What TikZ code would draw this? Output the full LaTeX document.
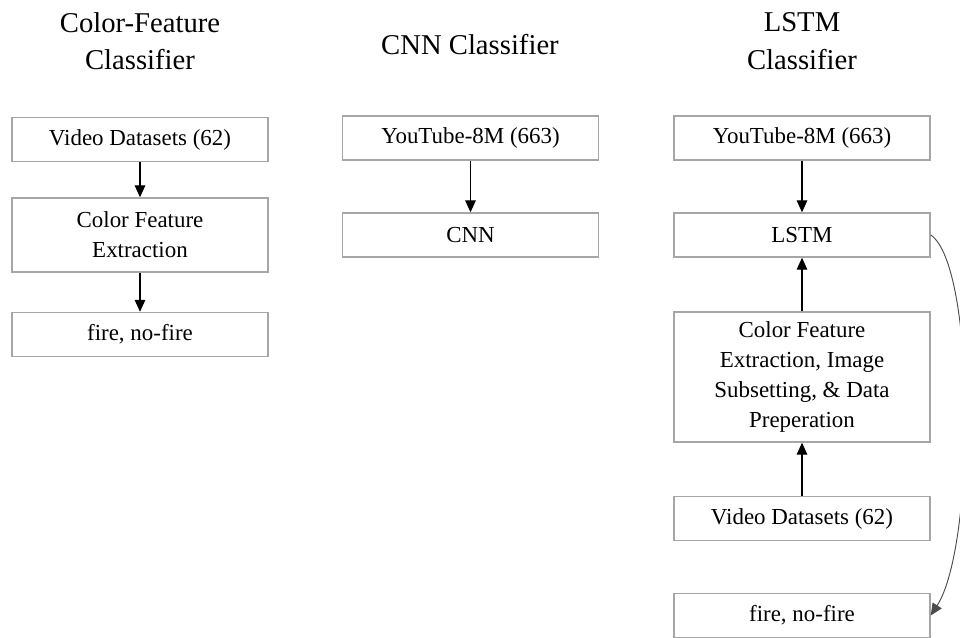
\documentclass[tikz,border=0pt]{standalone}
\usepackage{fontspec}
\setmainfont{Liberation Serif}
\usetikzlibrary{arrows.meta}
\tikzstyle{stage} = [draw=gray!70, line width=1.1pt, rectangle, minimum width=192pt, minimum height=33pt, align=center, inner sep=4pt, font=\fontsize{17.2}{22.5}\selectfont]
\tikzstyle{heading} = [align=center, font=\fontsize{21.5}{28}\selectfont]
\tikzstyle{flow} = [-{Triangle[length=9pt,width=8pt]}, line width=0.8pt]
\tikzstyle{loopback} = [-{Triangle[length=9pt,width=8pt]}, draw=black!70, line width=0.7pt]

\begin{document}
\begin{tikzpicture}[x=0.75pt,y=-0.75pt]
	\useasboundingbox (0,0) rectangle (960,637);
	% titles
	\node[heading] (tcolor) at (140,41) {Color-Feature\\Classifier};
	\node[heading] (tcnn) at (470,45) {CNN Classifier};
	\node[heading] (tlstm) at (802,41) {LSTM\\Classifier};
	% color-feature column
	\node[stage] (vid1) at (140,139.5) {Video Datasets (62)};
	\node[stage, minimum height=55.5pt] (cfe1) at (140,235) {Color Feature\\Extraction};
	\node[stage] (fire1) at (140,334.5) {fire, no-fire};
	% cnn column
	\node[stage] (yt1) at (470.5,138) {YouTube-8M (663)};
	\node[stage] (cnn) at (470.5,235) {CNN};
	% lstm column
	\node[stage] (yt2) at (802,138) {YouTube-8M (663)};
	\node[stage] (lstm) at (802,235) {LSTM};
	\node[stage, minimum height=97.5pt] (cfe2) at (802,377) {Color Feature\\Extraction, Image\\Subsetting, \& Data\\Preperation};
	\node[stage] (vid2) at (802,518.5) {Video Datasets (62)};
	\node[stage] (fire2) at (802,615.5) {fire, no-fire};
	% connectors
	\draw[flow] (vid1) -- (cfe1);
	\draw[flow] (cfe1) -- (fire1);
	\draw[flow] (yt1) -- (cnn);
	\draw[flow] (yt2) -- (lstm);
	\draw[flow] (cfe2) -- (lstm);
	\draw[flow] (vid2) -- (cfe2);
	\draw[loopback] (lstm.east) .. controls +(45,30) and +(45,-70) .. (fire2.east);
\end{tikzpicture}
\end{document}
